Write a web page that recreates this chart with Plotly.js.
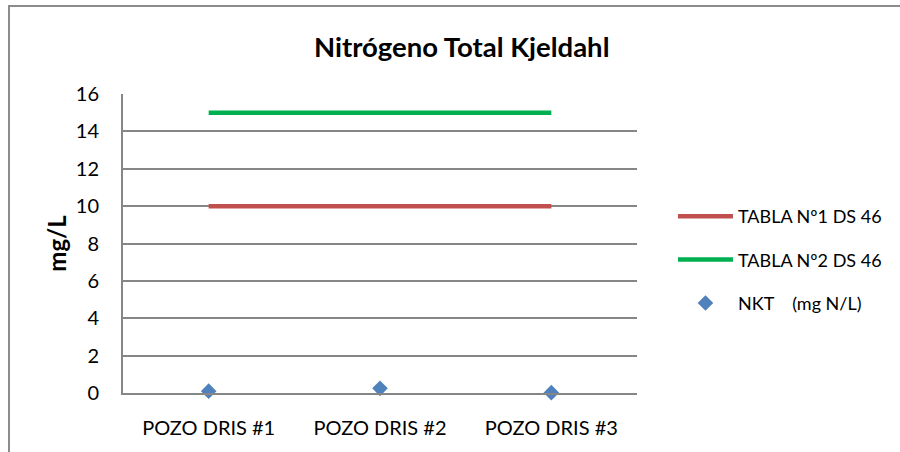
<!DOCTYPE html>
<html>
<head>
<meta charset="utf-8">
<script src="https://cdn.plot.ly/plotly-3.0.1.min.js"></script>
<style>
  body { margin: 0; overflow: hidden; background: #fff; }
  #plot { width: 900px; height: 452px; }
  #frame { position: absolute; left: 8px; top: 5px; width: 1000px; height: 600px;
           border: 2px solid #8c8c8c; pointer-events: none; }
</style>
</head>
<body>
<div id="plot"></div>
<div id="frame"></div>
<script>
// categories and series
const pozos = ["POZO DRIS #1", "POZO DRIS #2", "POZO DRIS #3"];
const tabla1 = [10, 10, 10];
const tabla2 = [15, 15, 15];
const nkt = [0.1, 0.25, 0.02];

const font = "Lato, 'Noto Sans', sans-serif";

let redTrace = {
    x: pozos, y: tabla1,
    name: "TABLA Nº1 DS 46",
    type: "scatter", mode: "lines",
    line: { color: "#C0504D", width: 4.5 },
    legendgroup: "a"
};
let greenTrace = {
    x: pozos, y: tabla2,
    name: "TABLA Nº2 DS 46",
    type: "scatter", mode: "lines",
    line: { color: "#00B050", width: 4.5 },
    legendgroup: "b"
};
let nktTrace = {
    x: pozos, y: nkt,
    name: "NKT\u00a0\u00a0\u00a0\u00a0(mg N/L)",
    type: "scatter", mode: "markers",
    marker: { symbol: "diamond", color: "#4F81BD", size: 12 },
    legendgroup: "c",
    cliponaxis: false
};

let layout = {
    width: 900, height: 452,
    paper_bgcolor: "#fff", plot_bgcolor: "#fff",
    font: { family: font, size: 20, color: "#000" },
    title: {
        text: "<b>Nitrógeno Total Kjeldahl</b>",
        font: { size: 27.5 },
        xref: "container", x: 0.513,
        yref: "container", y: 0.896, yanchor: "middle"
    },
    margin: { l: 123, r: 263, t: 94, b: 59 },
    showlegend: true,
    legend: {
        x: 1.07, xanchor: "left",
        y: 0.445, yanchor: "middle",
        traceorder: "grouped",
        tracegroupgap: 17,
        itemwidth: 55,
        font: { size: 18 }
    },
    xaxis: {
        type: "category",
        range: [-0.5, 2.5],
        showgrid: false,
        showline: true, linecolor: "#868686", linewidth: 2,
        ticks: "", ticklabelstandoff: 16,
        zeroline: false
    },
    yaxis: {
        range: [0, 16], dtick: 2,
        showgrid: true, gridcolor: "#868686", gridwidth: 1.5,
        showline: true, linecolor: "#868686", linewidth: 2,
        ticks: "", ticklabelstandoff: 18,
        zeroline: false,
        title: { text: "<b>mg/L</b>", font: { size: 24 }, standoff: 2 }
    }
};

Plotly.newPlot("plot", [redTrace, greenTrace, nktTrace], layout, { displayModeBar: false });
</script>
</body>
</html>
